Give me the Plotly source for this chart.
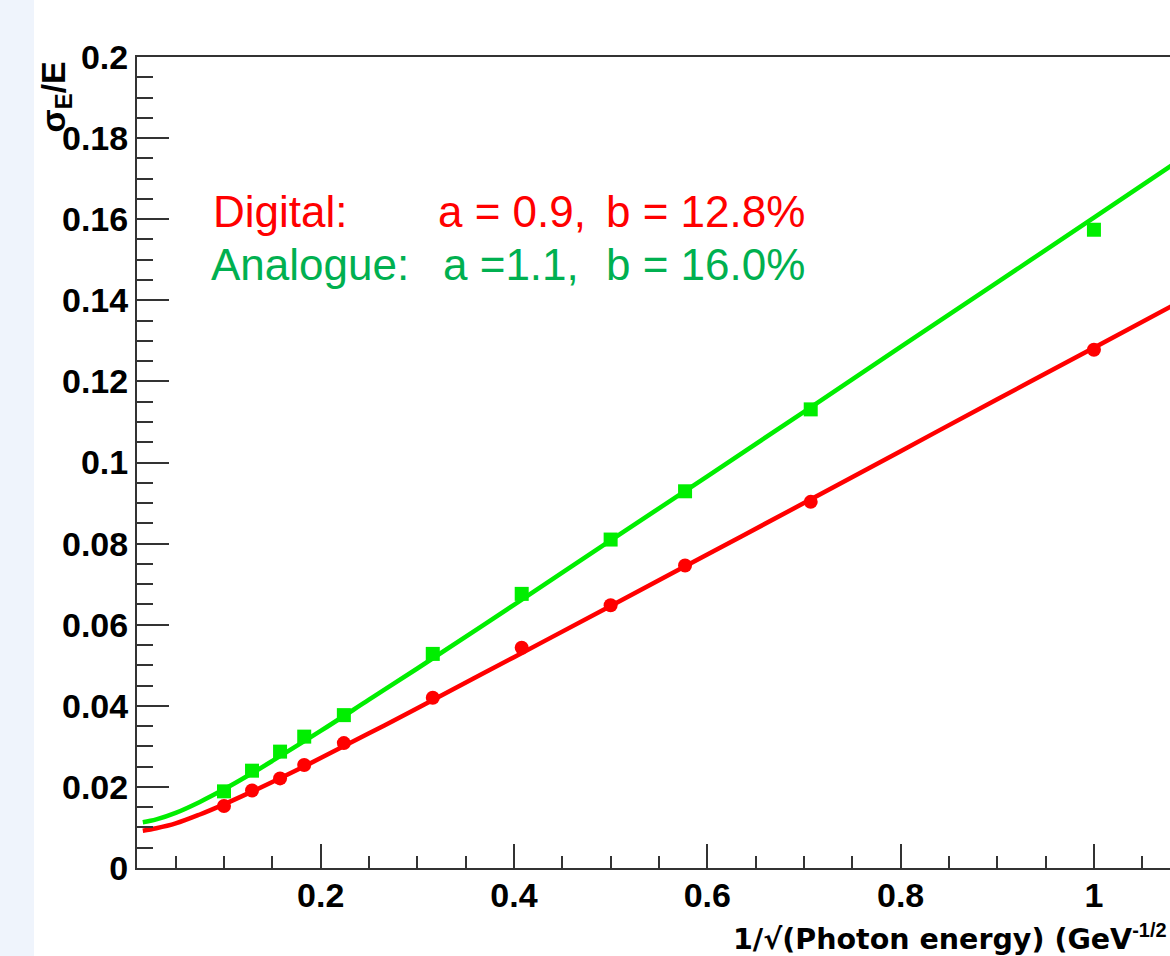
import plotly.graph_objects as go

# ---- data ----
inv_sqrt_e = [0.1, 0.129, 0.158, 0.183, 0.224, 0.316, 0.408, 0.5, 0.577, 0.707, 1.0]
digital_res = [0.0153, 0.0191, 0.0221, 0.0254, 0.0308, 0.0420, 0.0543, 0.0648, 0.0746, 0.0903, 0.1278]
analogue_res = [0.0189, 0.0240, 0.0287, 0.0324, 0.0377, 0.0528, 0.0676, 0.0810, 0.0929, 0.1131, 0.1574]

fit_x = [0.016, 0.03, 0.05, 0.075, 0.1, 0.125, 0.15, 0.2, 0.25, 0.3, 0.4, 0.5,
         0.6, 0.7, 0.8, 0.9, 1.0, 1.08]
digital_fit = [0.0092, 0.0098, 0.0110, 0.0132, 0.0157, 0.0184, 0.0212, 0.0271, 0.0332,
               0.0394, 0.0520, 0.0646, 0.0773, 0.0900, 0.1028, 0.1156, 0.1283, 0.1385]
analogue_fit = [0.0113, 0.0120, 0.0136, 0.0163, 0.0194, 0.0228, 0.0264, 0.0338, 0.0415,
                0.0492, 0.0649, 0.0808, 0.0966, 0.1125, 0.1285, 0.1444, 0.1604, 0.1732]

x_tickvals = [0.2, 0.4, 0.6, 0.8, 1.0]
x_ticktext = ["0.2", "0.4", "0.6", "0.8", "1"]
y_tickvals = [0, 0.02, 0.04, 0.06, 0.08, 0.1, 0.12, 0.14, 0.16, 0.18, 0.2]
y_ticktext = ["0", "0.02", "0.04", "0.06", "0.08", "0.1", "0.12", "0.14", "0.16", "0.18", "0.2"]

W, H = 1170, 956
L, R, T, B = 137, 0, 57, 88
PW, PH = W - L - R, H - T - B


def px(xp):
    return (xp - L) / PW


def py(yp):
    return (H - B - yp) / PH


RED = "#ff0000"
GREEN = "#00ee00"
TXT_GREEN = "#00b050"
AX = "#333333"
FONT = "Liberation Sans, Arial, sans-serif"

fig = go.Figure()
fig.add_trace(go.Scatter(x=inv_sqrt_e, y=digital_res, mode="markers",
                         marker=dict(symbol="circle", size=14, color=RED), showlegend=False))
fig.add_trace(go.Scatter(x=inv_sqrt_e, y=analogue_res, mode="markers",
                         marker=dict(symbol="square", size=14, color=GREEN), showlegend=False))
fig.add_trace(go.Scatter(x=fit_x, y=digital_fit, mode="lines",
                         line=dict(color=RED, width=4.5, shape="spline"), showlegend=False))
fig.add_trace(go.Scatter(x=fit_x, y=analogue_fit, mode="lines",
                         line=dict(color=GREEN, width=4.5, shape="spline"), showlegend=False))

fig.update_layout(
    width=W, height=H,
    margin=dict(l=L, r=R, t=T, b=B, pad=0),
    paper_bgcolor="white", plot_bgcolor="white",
    showlegend=False,
    font=dict(family=FONT, color="black"),
    xaxis=dict(range=[0.01, 0.01 + (W - L) / 966.6], showgrid=False, zeroline=False,
               showline=True, linecolor=AX, linewidth=2, mirror=True,
               ticks="inside", ticklen=24, tickwidth=2, tickcolor=AX,
               tickvals=x_tickvals, ticktext=x_ticktext,
               tickfont=dict(family=FONT, size=34, color="black", weight="bold"),
               ticklabelstandoff=-4,
               minor=dict(ticks="inside", ticklen=12, tickwidth=2, tickcolor=AX,
                          dtick=0.05, tick0=0, showgrid=False)),
    yaxis=dict(range=[0, 0.2], showgrid=False, zeroline=False,
               showline=True, linecolor=AX, linewidth=2, mirror=False,
               ticks="inside", ticklen=32, tickwidth=2, tickcolor=AX,
               tickvals=y_tickvals, ticktext=y_ticktext,
               tickfont=dict(family=FONT, size=34, color="black", weight="bold"),
               ticklabelstandoff=0,
               minor=dict(ticks="inside", ticklen=16, tickwidth=2, tickcolor=AX,
                          dtick=0.005, tick0=0, showgrid=False)),
)

# light blue strip on the left edge
fig.add_shape(type="rect", xref="paper", yref="paper", layer="below",
              x0=px(0), x1=px(34), y0=py(H), y1=py(0),
              fillcolor="#eff4fc", line=dict(width=0))

# axis titles (the reference shows the x title cut off after the exponent)
fig.add_annotation(xref="paper", yref="paper", x=px(731), y=py(958),
                   xanchor="left", yanchor="bottom", showarrow=False,
                   text="1/\u221a(Photon energy) (GeV<sup><span style='font-family:Liberation Sans'>-1/2</span></sup>",
                   font=dict(family="DejaVu Sans, sans-serif", size=28.5, color="black", weight="bold"))
fig.add_annotation(xref="paper", yref="paper", x=px(55), y=py(59),
                   xanchor="center", yanchor="top", showarrow=False, textangle=-90,
                   text="\u03c3<sub>E</sub>/E",
                   font=dict(family=FONT, size=34, color="black", weight="bold"))

# fit parameter text
tf = 44
fig.add_annotation(xref="paper", yref="paper", x=px(211), y=py(212),
                   xanchor="left", yanchor="middle", showarrow=False,
                   text="Digital:", font=dict(family=FONT, size=tf, color=RED))
fig.add_annotation(xref="paper", yref="paper", x=px(436), y=py(212),
                   xanchor="left", yanchor="middle", showarrow=False,
                   text="a = 0.9,", font=dict(family=FONT, size=tf, color=RED))
fig.add_annotation(xref="paper", yref="paper", x=px(807), y=py(212),
                   xanchor="right", yanchor="middle", showarrow=False,
                   text="b = 12.8%", font=dict(family=FONT, size=tf, color=RED))
fig.add_annotation(xref="paper", yref="paper", x=px(209), y=py(264),
                   xanchor="left", yanchor="middle", showarrow=False,
                   text="Analogue:", font=dict(family=FONT, size=tf, color=TXT_GREEN))
fig.add_annotation(xref="paper", yref="paper", x=px(441), y=py(264),
                   xanchor="left", yanchor="middle", showarrow=False,
                   text="a =1.1,", font=dict(family=FONT, size=tf, color=TXT_GREEN))
fig.add_annotation(xref="paper", yref="paper", x=px(807), y=py(264),
                   xanchor="right", yanchor="middle", showarrow=False,
                   text="b = 16.0%", font=dict(family=FONT, size=tf, color=TXT_GREEN))

fig.write_html("out.html")
